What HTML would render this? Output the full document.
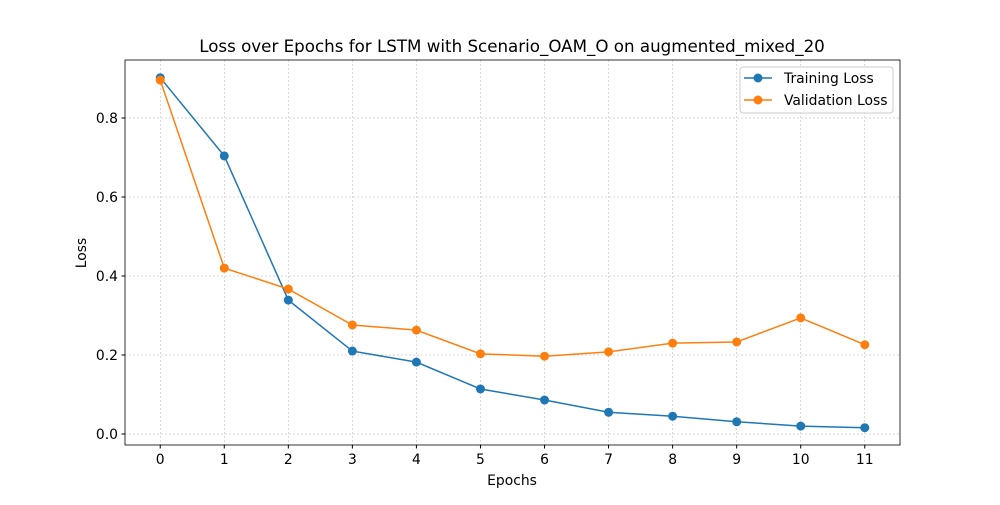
<!DOCTYPE html>
<html><head><meta charset="utf-8"><style>
body{margin:0;background:#fff;}
svg{font-family:"DejaVu Sans","Liberation Sans",sans-serif;}
</style></head><body>
<svg id="c" width="1000" height="500" xmlns="http://www.w3.org/2000/svg"></svg>
<script>
const epochs=[0,1,2,3,4,5,6,7,8,9,10,11];
const trainLoss=[0.902,0.704,0.339,0.210,0.182,0.114,0.086,0.055,0.045,0.031,0.020,0.016];
const valLoss=[0.896,0.420,0.367,0.276,0.263,0.203,0.197,0.208,0.230,0.233,0.294,0.226];
const yTicks=[0.0,0.2,0.4,0.6,0.8];
const yTickLabels=["0.0","0.2","0.4","0.6","0.8"];
const L=125,R=900,T=60,B=445;
const xMin=-0.55,xMax=11.55,yMin=-0.0278,yMax=0.9468;
const xs=v=>L+(v-xMin)/(xMax-xMin)*(R-L);
const ys=v=>B-(v-yMin)/(yMax-yMin)*(B-T);
const svg=document.getElementById('c');
const NS='http://www.w3.org/2000/svg';
function mk(tag,attrs,parent){const e=document.createElementNS(NS,tag);for(const k in attrs)e.setAttribute(k,attrs[k]);(parent||svg).appendChild(e);return e;}
const grid=mk('g',{});


epochs.forEach(v=>{mk('line',{x1:xs(v),x2:xs(v),y1:T,y2:B,stroke:'#b0b0b0','stroke-width':0.5,'stroke-dasharray':'2,2'},grid);});
yTicks.forEach(v=>{mk('line',{x1:L,x2:R,y1:ys(v),y2:ys(v),stroke:'#b0b0b0','stroke-width':0.5,'stroke-dasharray':'2,2'},grid);});
const xa=mk('g',{});


epochs.forEach(v=>{mk('line',{x1:xs(v),x2:xs(v),y1:B,y2:B+3.5,stroke:'#000'},xa);const t=mk('text',{x:xs(v),y:B+19,'text-anchor':'middle','font-size':13.9},xa);t.textContent=v;});
const ya=mk('g',{});


yTicks.forEach((v,i)=>{mk('line',{x1:L-3.5,x2:L,y1:ys(v),y2:ys(v),stroke:'#000'},ya);const t=mk('text',{x:L-7,y:ys(v)+5,'text-anchor':'end','font-size':13.9},ya);t.textContent=yTickLabels[i];});
function series(data,color,name){
 const g=mk('g',{});
 
 
 mk('polyline',{points:data.map((v,i)=>xs(epochs[i])+','+ys(v)).join(' '),fill:'none',stroke:color,'stroke-width':1.5},g);
 data.forEach((v,i)=>{const c=mk('circle',{cx:xs(epochs[i]),cy:ys(v),r:4.5,fill:color},g);});
}
series(trainLoss,'#1f77b4','training-loss-line');
series(valLoss,'#ff7f0e','validation-loss-line');
mk('rect',{x:L,y:T,width:R-L,height:B-T,fill:'none',stroke:'#000','stroke-width':0.8});
</script>
<svg width="1000" height="500" style="position:absolute;left:0;top:0" xmlns="http://www.w3.org/2000/svg">
<text x="512" y="52" text-anchor="middle" font-size="16.7" font-family="DejaVu Sans, Liberation Sans, sans-serif">Loss over Epochs for LSTM with Scenario_OAM_O on augmented_mixed_20</text>
<text x="512" y="485" text-anchor="middle" font-size="13.9" font-family="DejaVu Sans, Liberation Sans, sans-serif">Epochs</text>
<text x="86" y="253" text-anchor="middle" font-size="13.9" font-family="DejaVu Sans, Liberation Sans, sans-serif" transform="rotate(-90 86 253)">Loss</text>
<g font-family="DejaVu Sans, Liberation Sans, sans-serif" font-size="13.9">
<rect x="740" y="67" width="153" height="46" rx="3" fill="#fff" fill-opacity="0.8" stroke="#cccccc"/>
<g><line x1="744" x2="772" y1="78" y2="78" stroke="#1f77b4" stroke-width="1.5"/><circle cx="758" cy="78" r="4.5" fill="#1f77b4"/><text x="784" y="83">Training Loss</text></g>
<g><line x1="744" x2="772" y1="100" y2="100" stroke="#ff7f0e" stroke-width="1.5"/><circle cx="758" cy="100" r="4.5" fill="#ff7f0e"/><text x="784" y="105">Validation Loss</text></g>
</g>
</svg>
</body></html>
